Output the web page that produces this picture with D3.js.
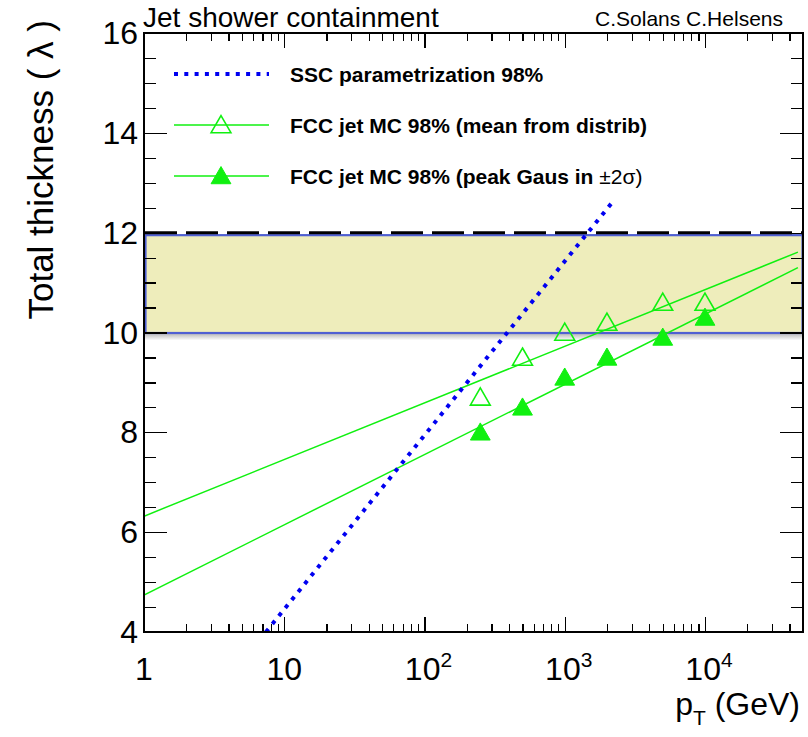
<!DOCTYPE html>
<html>
<head>
<meta charset="utf-8">
<script src="https://cdn.jsdelivr.net/npm/d3@7"></script>
<style>
  body { margin: 0; background: #fff; }
  svg { font-family: "Liberation Sans", Arial, Helvetica, sans-serif; }
</style>
</head>
<body>
<svg id="graph"></svg>
<script>
// data
let ptPoints = [250, 500, 1000, 2000, 5000, 10000];
let meanLambda = [8.7, 9.5, 10.0, 10.2, 10.6, 10.6];
let peakLambda = [8.0, 8.5, 9.1, 9.5, 9.9, 10.3];
let fitPt = [1, 46000];
let meanFitLambda = [6.32, 11.61];
let peakFitLambda = [4.74, 11.30];
let sscPt = [7.4, 2200];
let sscLambda = [4.0, 12.62];
let bandLambda = [10, 12];
let xMajorTicks = [1, 10, 100, 1000, 10000];
let xTickBase = ["1", "10", "10", "10", "10"];
let xTickExp = ["", "", "2", "3", "4"];
let yMajorTicks = [4, 6, 8, 10, 12, 14, 16];
let legendLabels = ["SSC parametrization 98%", "FCC jet MC 98% (mean from distrib)", "FCC jet MC 98% (peak Gaus in "];

let w = 808;
let h = 737;
let leftmargin = 144, rightedge = 803, topmargin = 33, bottomedge = 632;

let green = "#10f010";
let blue = "#0000f0";

let xscale = d3.scaleLog().domain([1, 5e4]).range([leftmargin, rightedge]);
let yscale = d3.scaleLinear().domain([4, 16]).range([bottomedge, topmargin]);

let svg = d3.select("#graph").attr("width", w).attr("height", h);

let defs = svg.append("defs");
let grad = defs.append("linearGradient").attr("id", "shadow")
    .attr("x1", 0).attr("y1", 0).attr("x2", 0).attr("y2", 1);
grad.append("stop").attr("offset", "0%").attr("stop-color", "#b8b8b8");
grad.append("stop").attr("offset", "100%").attr("stop-color", "#ffffff");
defs.append("clipPath").attr("id", "frame")
    .append("rect").attr("x", leftmargin).attr("y", topmargin)
    .attr("width", rightedge - leftmargin).attr("height", bottomedge - topmargin);

let plot = svg.append("g").attr("clip-path", "url(#frame)");

// band 10-12 lambda
plot.append("rect")
    .attr("x", leftmargin + 1).attr("y", yscale(bandLambda[0]) + 1)
    .attr("width", rightedge - leftmargin - 1).attr("height", 7)
    .style("fill", "url(#shadow)");
plot.append("rect")
    .attr("x", leftmargin + 1.5).attr("y", yscale(bandLambda[1]) + 2.5)
    .attr("width", rightedge - leftmargin - 2).attr("height", yscale(bandLambda[0]) - yscale(bandLambda[1]) - 2)
    .style("fill", "#eeedbb").style("stroke", "#4f5fd2").style("stroke-width", 2.2);
plot.append("line")
    .attr("x1", leftmargin + 1).attr("x2", rightedge)
    .attr("y1", yscale(bandLambda[1])).attr("y2", yscale(bandLambda[1]))
    .style("stroke", "#000").style("stroke-width", 3).style("stroke-dasharray", "32,9");

// axes ticks
let xMinor = [];
for (let d = 1; d <= 10000; d *= 10) for (let k = 2; k <= 9; k++) if (d * k <= 5e4) xMinor.push(d * k);
let yMinor = d3.range(4, 16.01, 0.5).filter(v => v % 2 != 0);

let axes = svg.append("g").style("shape-rendering", "crispEdges");
function tickAxis(axis, tr) {
    let g = axes.append("g").attr("transform", tr).call(axis);
    g.select(".domain").remove();
    g.selectAll("text").remove();
    g.selectAll("line").style("stroke", "#000").style("stroke-width", 1.2);
}
tickAxis(d3.axisBottom(xscale).tickValues(xMinor).tickSize(-8), `translate(0,${bottomedge})`);
tickAxis(d3.axisBottom(xscale).tickValues(xMajorTicks).tickSize(-15), `translate(0,${bottomedge})`);
tickAxis(d3.axisTop(xscale).tickValues(xMinor).tickSize(-8), `translate(0,${topmargin})`);
tickAxis(d3.axisTop(xscale).tickValues(xMajorTicks).tickSize(-15), `translate(0,${topmargin})`);
tickAxis(d3.axisLeft(yscale).tickValues(yMinor).tickSize(-12), `translate(${leftmargin},0)`);
tickAxis(d3.axisLeft(yscale).tickValues(yMajorTicks).tickSize(-23), `translate(${leftmargin},0)`);
tickAxis(d3.axisRight(yscale).tickValues(yMinor).tickSize(-12), `translate(${rightedge},0)`);
tickAxis(d3.axisRight(yscale).tickValues(yMajorTicks).tickSize(-23), `translate(${rightedge},0)`);

svg.append("rect")
    .attr("x", leftmargin).attr("y", topmargin)
    .attr("width", rightedge - leftmargin).attr("height", bottomedge - topmargin)
    .style("fill", "none").style("stroke", "#000").style("stroke-width", 2);

// fit lines and parametrization
let line = d3.line().x(d => xscale(d[0])).y(d => yscale(d[1]));
plot.append("path")
    .attr("d", line(d3.zip(fitPt, meanFitLambda)))
    .style("fill", "none").style("stroke", green).style("stroke-width", 1.5);
plot.append("path")
    .attr("d", line(d3.zip(fitPt, peakFitLambda)))
    .style("fill", "none").style("stroke", green).style("stroke-width", 1.5);
plot.append("path")
    .attr("d", line(d3.zip(sscPt, sscLambda)))
    .style("fill", "none").style("stroke", blue).style("stroke-width", 4)
    .style("stroke-dasharray", "4,6.3");

// markers
let tri = d3.symbol().type(d3.symbolTriangle).size(170);
function triangles(vals, filled) {
    plot.append("g").selectAll("path")
        .data(d3.zip(ptPoints, vals))
        .enter().append("path")
        .attr("d", tri)
        .attr("transform", d => `translate(${xscale(d[0])},${yscale(d[1]) + 2})`)
        .style("fill", filled ? green : "none")
        .style("stroke", green).style("stroke-width", filled ? 1 : 1.6);
}
triangles(meanLambda, false);
triangles(peakLambda, true);

// tick labels
let xl = svg.append("g").style("font-size", "32px").attr("text-anchor", "middle");
xMajorTicks.forEach((v, i) => {
    let t = xl.append("text").attr("x", xscale(v) + (xTickExp[i] ? 4 : 0)).attr("y", 680);
    t.append("tspan").text(xTickBase[i]);
    if (xTickExp[i]) t.append("tspan").attr("dy", -13).style("font-size", "21px").text(xTickExp[i]);
});
svg.append("g").style("font-size", "32px").attr("text-anchor", "end")
    .selectAll("text").data(yMajorTicks).enter().append("text")
    .attr("x", 138).attr("y", d => yscale(d) + 11)
    .text(d => d);

// titles
svg.append("text").attr("x", 143).attr("y", 27).style("font-size", "28px").text("Jet shower containment");
svg.append("text").attr("x", 783).attr("y", 26).attr("text-anchor", "end").style("font-size", "21px").text("C.Solans C.Helsens");
let xt = svg.append("text").attr("x", 800).attr("y", 715).attr("text-anchor", "end").style("font-size", "32px");
xt.append("tspan").text("p");
xt.append("tspan").attr("dy", 10).style("font-size", "21px").text("T");
xt.append("tspan").attr("dy", -10).text(" (GeV)");
svg.append("text")
    .attr("transform", "translate(53,20) rotate(-90)")
    .attr("text-anchor", "end").style("font-size", "35px")
    .text("Total thickness ( \u03bb )");

// legend
let legY = [74, 125, 176];
let leg = svg.append("g");
leg.append("line").attr("x1", 174).attr("x2", 269).attr("y1", legY[0]).attr("y2", legY[0])
    .style("stroke", blue).style("stroke-width", 4).style("stroke-dasharray", "4,6.3");
[1, 2].forEach(i => {
    leg.append("line").attr("x1", 174).attr("x2", 269).attr("y1", legY[i]).attr("y2", legY[i])
        .style("stroke", green).style("stroke-width", 1.5);
    leg.append("path").attr("d", tri).attr("transform", `translate(221,${legY[i] + 2})`)
        .style("fill", i == 2 ? green : "none").style("stroke", green).style("stroke-width", i == 2 ? 1 : 1.6);
});
leg.selectAll("text").data(legendLabels).enter().append("text")
    .attr("x", 290).attr("y", (d, i) => legY[i] + 8)
    .style("font-size", "21px").style("font-weight", "bold")
    .text(d => d)
    .filter((d, i) => i == 2)
    .append("tspan").style("font-weight", "normal").text("\u00b12\u03c3)");
</script>
</body>
</html>
